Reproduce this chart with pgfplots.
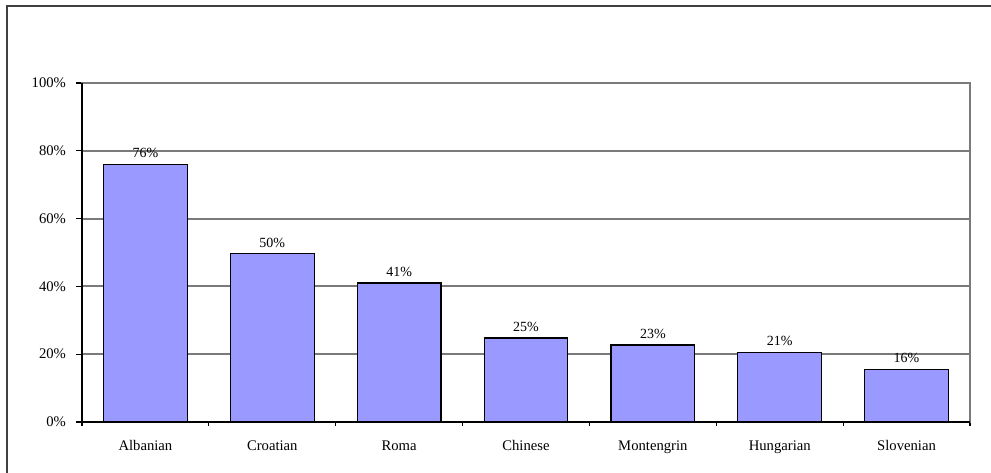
\documentclass[border=0pt]{standalone}
\usepackage{fontspec}
\setmainfont{Liberation Serif}
\usepackage{pgfplots}
\pgfplotsset{compat=1.18}
\usepackage{pgfplotstable}
\definecolor{barblue}{HTML}{9999FF}
\definecolor{gridgray}{HTML}{7A7A7A}
\definecolor{framegray}{HTML}{404040}

\pgfplotstableread{
x y lab
0 76.0 76
1 49.6 50
2 41.0 41
3 24.8 25
4 22.7 23
5 20.6 21
6 15.6 16
}\datatable

\begin{document}
\begin{tikzpicture}
\path[use as bounding box] (0,0) rectangle (743.25pt,354.75pt);
\draw[framegray, line width=1.4pt] (5.25pt,0) -- (5.25pt,350.25pt) -- (743.25pt,350.25pt);
\begin{axis}[
  at={(61.5pt,38.25pt)}, anchor=south west,
  scale only axis, width=666pt, height=254.25pt,
  xmin=-0.5, xmax=6.5, ymin=0, ymax=100,
  xtick={0,...,6},
  xticklabels={Albanian,Croatian,Roma,Chinese,Montengrin,Hungarian,Slovenian},
  minor xtick={-0.5,0.5,...,6.5},
  ytick={0,20,...,100},
  xtick pos=bottom, ytick pos=left,
  yticklabel={\pgfmathprintnumber{\tick}\%},
  /pgf/number format/assume math mode=true,
  tick align=outside,
  major tick length=4.5pt,
  minor tick length=3pt,
  x tick style={draw=none},
  minor x tick style={draw=black, line width=0.8pt},
  y tick style={black, line width=0.9pt},
  ymajorgrids,
  grid style={gridgray, line width=1.4pt},
  axis line style={gridgray, line width=1.2pt},
  tick label style={font=\fontsize{11}{13}\selectfont},
  yticklabel style={xshift=-4pt},
  xticklabel style={yshift=-6pt},
  ybar, bar width=0.66,
  point meta=explicit symbolic,
  nodes near coords={\pgfplotspointmeta\%},
  nodes near coords style={font=\fontsize{10.5}{12}\selectfont, yshift=1pt},
  after end axis/.code={
    \draw[black, line width=1.1pt] (rel axis cs:0,1) -- (rel axis cs:0,0) -- (rel axis cs:1,0);
  },
]
\addplot[fill=barblue, draw=black, line width=0.9pt] table[x=x, y=y, meta=lab] {\datatable};
\end{axis}
\end{tikzpicture}
\end{document}
